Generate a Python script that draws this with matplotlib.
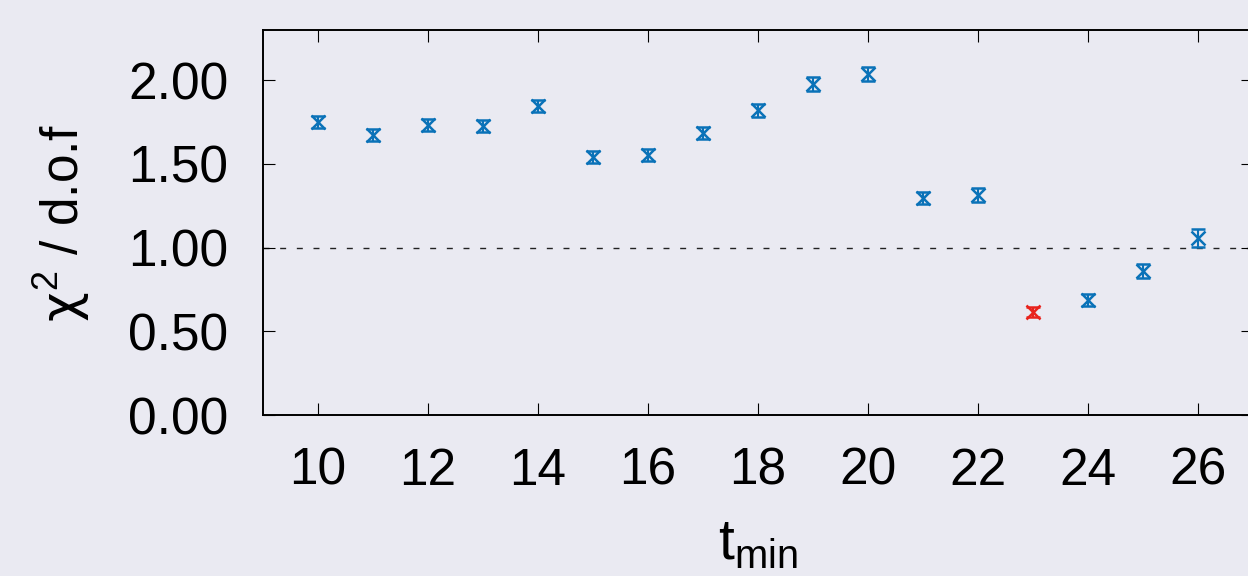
import numpy as np
import matplotlib
matplotlib.use("Agg")
import matplotlib.pyplot as plt

plt.rcParams['font.family'] = ['Liberation Sans', 'DejaVu Sans']
plt.rcParams['mathtext.fontset'] = 'custom'
plt.rcParams['mathtext.rm'] = 'Liberation Sans'
plt.rcParams['mathtext.it'] = 'DejaVu Sans'

# fit results vs t_min
t_min = [10, 11, 12, 13, 14, 15, 16, 17, 18, 19, 20, 21, 22, 23, 24, 25, 26]
chi2 = [1.749, 1.672, 1.731, 1.725, 1.845, 1.540, 1.552, 1.684, 1.821,
        1.976, 2.036, 1.296, 1.313, 0.615, 0.687, 0.860, 1.057]
chi2_err = [0.036, 0.036, 0.036, 0.036, 0.036, 0.034, 0.036, 0.036, 0.038,
            0.040, 0.042, 0.038, 0.040, 0.032, 0.034, 0.040, 0.055]
chosen = 23  # highlighted fit

x_ticks = [10, 12, 14, 16, 18, 20, 22, 24, 26]
y_ticks = [0.0, 0.5, 1.0, 1.5, 2.0]

bg = '#eaeaf2'
blue = '#0a72b8'
red = '#e8221c'

fig = plt.figure(figsize=(12.48, 5.76), dpi=100, facecolor=bg)
ax = fig.add_axes([0.2107, 0.2795, 0.7933, 0.6685])
ax.set_facecolor(bg)

ax.axhline(1.0, color='#222222', lw=1.0, ls=(0, (4.3, 7.7)), zorder=1)

t = np.array(t_min)
c = np.array(chi2)
e = np.array(chi2_err)
sel = t == chosen
for mask, col in [(~sel, blue), (sel, red)]:
    ax.errorbar(t[mask], c[mask], yerr=e[mask], fmt='x', color=col,
                ms=9.5, mew=1.8, elinewidth=1.5, capsize=4.7, capthick=1.8,
                zorder=3)

ax.set_xlim(9, 27)
ax.set_ylim(0, 2.3)
ax.set_xticks(x_ticks)
ax.set_yticks(y_ticks)
ax.set_yticklabels(['%.2f' % v for v in y_ticks])
ax.tick_params(direction='in', length=8.5, width=0.8, labelsize=37,
               top=True, right=True, colors='black')
ax.tick_params(axis='x', pad=23)
ax.tick_params(axis='y', pad=25)
for s in ax.spines.values():
    s.set_linewidth(1.4)
    s.set_color('black')

ax.set_xlabel(r't$_{\mathrm{min}}$', fontsize=41, labelpad=16)
ax.set_ylabel(r'$\chi^{2}$ / d.o.f', fontsize=37, labelpad=26)

fig.savefig('out.png', dpi=100, facecolor=bg)
